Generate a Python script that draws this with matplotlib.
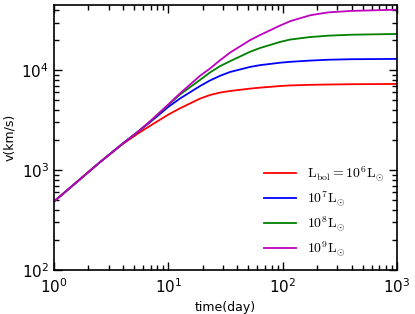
import matplotlib
matplotlib.use("Agg")
import matplotlib.pyplot as plt

plt.rcParams['mathtext.fontset'] = 'cm'

# valores
tiempo = [1, 2.5, 4, 5.5, 7, 10, 12.6, 18.9, 23.1, 28.3, 34.5, 51.7, 63.2, 94.5, 116, 173, 250, 400, 1000]
v_1e6 = [485, 1190, 1830, 2350, 2800, 3600, 4150, 5200, 5650, 5980, 6200, 6550, 6700, 6950, 7050, 7150, 7200, 7250, 7300]
v_1e7 = [485, 1190, 1850, 2450, 3050, 4300, 5200, 6950, 7900, 8800, 9600, 10800, 11250, 11900, 12150, 12500, 12750, 12900, 13000]
v_1e8 = [485, 1190, 1850, 2460, 3100, 4500, 5700, 8000, 9500, 11000, 12300, 15300, 16700, 19200, 20300, 21500, 22200, 22700, 23100]
v_1e9 = [485, 1190, 1850, 2460, 3120, 4550, 5850, 8800, 10400, 12600, 15000, 20000, 22500, 28000, 31000, 35500, 38000, 39300, 40400]

etiquetas = [r'$\mathrm{L_{bol}=10^6L_{\odot}}$', r'$\mathrm{10^7L_{\odot}}$',
             r'$\mathrm{10^8L_{\odot}}$', r'$\mathrm{10^9L_{\odot}}$']
colores = ['r', 'b', 'g', 'm']

fig = plt.figure(figsize=(4.15, 3.14), dpi=100)
ax = fig.add_axes([0.130, 0.140, 0.827, 0.844])

for v, c, lab in zip([v_1e6, v_1e7, v_1e8, v_1e9], colores, etiquetas):
    ax.plot(tiempo, v, color=c, lw=1.3, label=lab)

ax.set_xscale('log')
ax.set_yscale('log')
ax.set_xlim(1, 1000)
ax.set_ylim(100, 4.5e4)
ax.set_xlabel('time(day)', fontsize=9)
ax.set_ylabel('v(km/s)', fontsize=9)
ax.tick_params(which='both', direction='in', top=True, right=True, labelsize=11)
ax.tick_params(which='major', length=6, width=1)
ax.tick_params(which='minor', length=3.5, width=1)
ax.tick_params(axis='x', pad=5)
for s in ax.spines.values():
    s.set_linewidth(1.2)

ax.legend(loc='lower right', frameon=False, fontsize=10, handlelength=2.3,
          labelspacing=0.45, bbox_to_anchor=(1.0, 0.0))

plt.savefig('out.png', dpi=100)
